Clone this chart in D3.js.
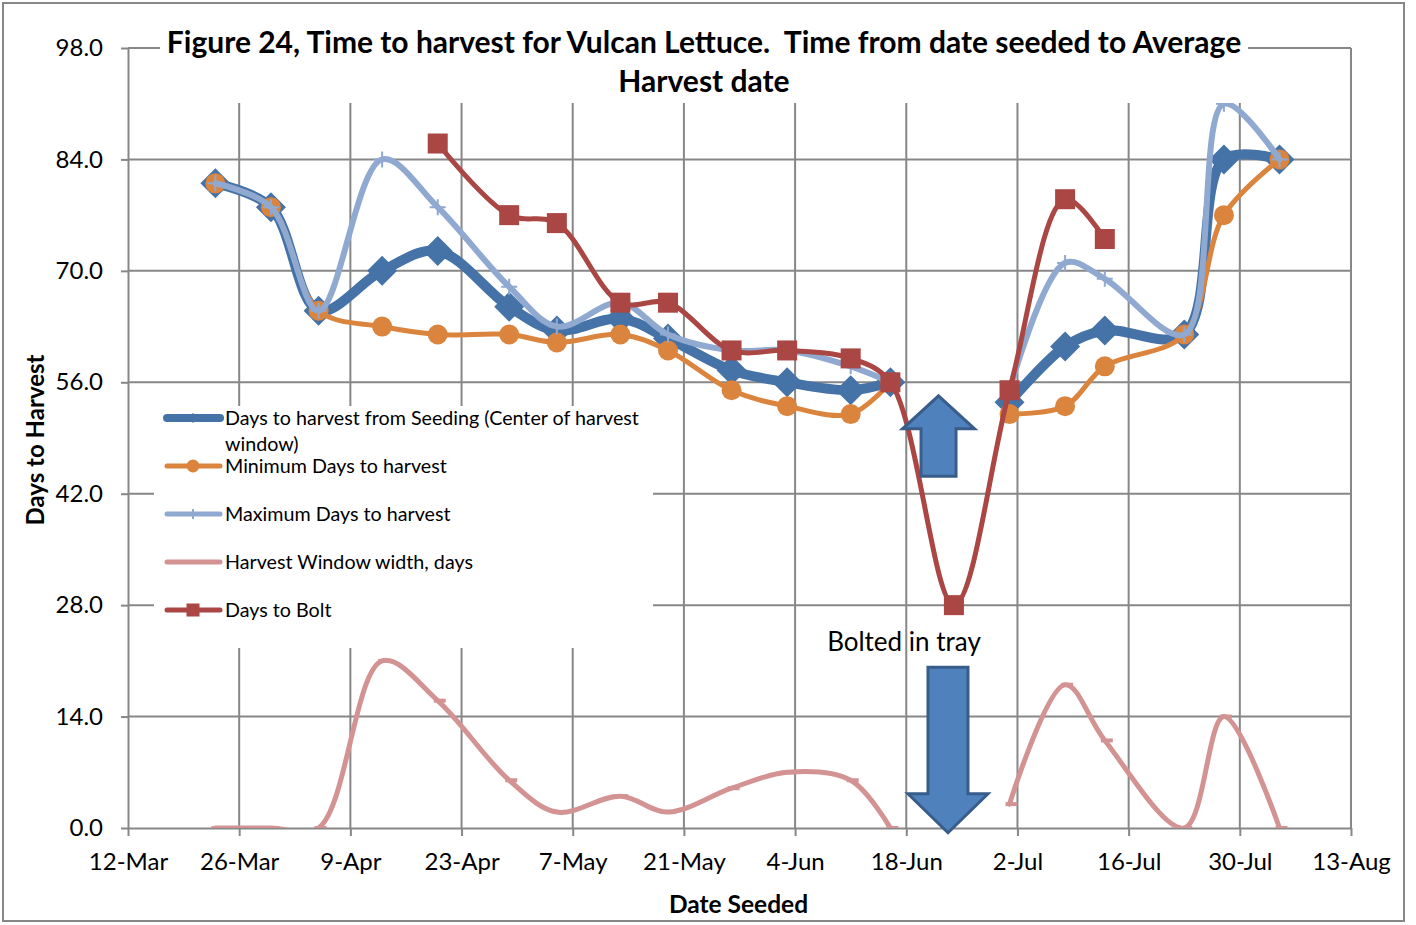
<!DOCTYPE html>
<html>
<head>
<meta charset="utf-8">
<script src="https://cdn.jsdelivr.net/npm/d3@7"></script>
<style>
  body { margin: 0; background: #fff; }
  svg { font-family: Lato, "Open Sans", sans-serif; }
  .grid line { stroke: #878787; stroke-width: 2; }
  .axis path, .axis line { stroke: #878787; stroke-width: 2; }
  .axis text { font-size: 24px; fill: #000; }
  .legend text { font-size: 19.7px; fill: #000; }
</style>
</head>
<body>
<svg id="chart"></svg>
<script>
// dates seeded (year 2011)
const seeded = ["23-Mar", "30-Mar", "5-Apr", "13-Apr", "20-Apr", "29-Apr", "5-May", "13-May", "19-May", "27-May",
  "3-Jun", "11-Jun", "16-Jun", "24-Jun", "1-Jul", "8-Jul", "13-Jul", "23-Jul", "28-Jul", "4-Aug"];

// days to harvest, null = no value for that seeding
const centerDays = [81, 78, 65, 70, 72.5, 65.5, 62.5, 64, 61.5, 57.5, 56, 55, 56, null, 53.5, 60.5, 62.5, 62, 84, 84];
const minDays = [81, 78, 65, 63, 62, 62, 61, 62, 60, 55, 53, 52, 56, null, 52, 53, 58, 62, 77, 84];
const maxDays = [81, 78, 65, 84, 78, 68, 63, 66, 62, 60, 60, 58, 56, null, 55, 71, 69, 62, 91, 84];
const windowDays = [0, 0, 0, 21, 16, 6, 2, 4, 2, 5, 7, 6, 0, null, 3, 18, 11, 0, 14, 0];
const boltDays = [null, null, null, null, 86, 77, 76, 66, 66, 60, 60, 59, 56, 28, 55, 79, 74, null, null, null];

const xTickLabels = ["12-Mar", "26-Mar", "9-Apr", "23-Apr", "7-May", "21-May", "4-Jun", "18-Jun", "2-Jul", "16-Jul", "30-Jul", "13-Aug"];
const yTickValues = [0, 14, 28, 42, 56, 70, 84, 98];

const seriesNames = [
  "Days to harvest from Seeding (Center of harvest window)",
  "Minimum Days to harvest",
  "Maximum Days to harvest",
  "Harvest Window width, days",
  "Days to Bolt"
];

const parseDate = s => d3.timeParse("%d-%b-%Y")(s + "-2011");

const width = 1416, height = 925;
const margin = {top: 48, right: 65, bottom: 97, left: 128};
const widthM = width - margin.left - margin.right;
const heightM = height - margin.top - margin.bottom;

const svg = d3.select("#chart").attr("width", width).attr("height", height);

// outer frame of the chart
svg.append("rect")
  .attr("x", 3).attr("y", 3).attr("width", 1401).attr("height", 918)
  .attr("fill", "#fff").attr("stroke", "#878787").attr("stroke-width", 2);

const xScale = d3.scaleTime()
  .domain([parseDate(xTickLabels[0]), parseDate(xTickLabels[xTickLabels.length - 1])])
  .range([0, widthM]);
const yScale = d3.scaleLinear().domain([0, 98]).range([heightM, 0]);

const chart = svg.append("g").attr("transform", `translate(${margin.left},${margin.top})`);

// gridlines
const grid = chart.append("g").attr("class", "grid");
grid.selectAll(".h").data(yTickValues.slice(1)).join("line")
  .attr("x1", 0).attr("x2", widthM)
  .attr("y1", d => yScale(d)).attr("y2", d => yScale(d));
grid.selectAll(".v").data(xTickLabels.slice(1)).join("line")
  .attr("x1", d => xScale(parseDate(d))).attr("x2", d => xScale(parseDate(d)))
  .attr("y1", 0).attr("y2", heightM);

// axes
const xAxis = d3.axisBottom(xScale)
  .tickValues(xTickLabels.map(parseDate))
  .tickFormat(d3.timeFormat("%-d-%b"))
  .tickSize(8).tickSizeOuter(0).tickPadding(17);
const yAxis = d3.axisLeft(yScale)
  .tickValues(yTickValues)
  .tickFormat(d3.format(".1f"))
  .tickSize(7).tickSizeOuter(0).tickPadding(18);

chart.append("g").attr("class", "axis x-axis")
  .attr("transform", `translate(0,${heightM})`).call(xAxis);
chart.append("g").attr("class", "axis y-axis").call(yAxis);
// let the css decide the font of the tick labels
chart.selectAll(".axis").attr("font-family", null).attr("font-size", null);

// series definitions (draw order = excel series order)
const series = [
  {name: seriesNames[0], values: centerDays, color: "#4572A7", width: 10, marker: "diamond", size: 15},
  {name: seriesNames[1], values: minDays, color: "#DB843D", width: 5, marker: "circle", size: 10},
  {name: seriesNames[2], values: maxDays, color: "#8FA9D0", width: 6, marker: "plus", size: 8},
  {name: seriesNames[3], values: windowDays, color: "#D39393", width: 5, marker: "dash", size: 6},
  {name: seriesNames[4], values: boltDays, color: "#AA4643", width: 5, marker: "square", size: 10}
];

svg.append("defs").append("clipPath").attr("id", "plot-clip")
  .append("rect").attr("x", -2).attr("y", -2).attr("width", widthM + 4).attr("height", heightM + 2);

const line = d3.line()
  .defined(d => d.v != null)
  .x(d => xScale(d.date))
  .y(d => yScale(d.v))
  .curve(d3.curveCatmullRom.alpha(0.5));

function drawMarker(g, type, s, color) {
  if (type === "diamond") {
    g.append("path").attr("d", `M0,${-s}L${s},0L0,${s}L${-s},0Z`).attr("fill", color);
  } else if (type === "circle") {
    g.append("circle").attr("r", s).attr("fill", color);
  } else if (type === "square") {
    g.append("rect").attr("x", -s).attr("y", -s).attr("width", 2 * s).attr("height", 2 * s).attr("fill", color);
  } else if (type === "plus") {
    g.append("path").attr("d", `M${-s},0H${s}M0,${-s}V${s}`).attr("stroke", color).attr("stroke-width", 2);
  } else if (type === "dash") {
    g.append("rect").attr("x", -s + 2).attr("y", -2).attr("width", 2 * s).attr("height", 4).attr("fill", color);
  }
}

const plot = chart.append("g").attr("clip-path", "url(#plot-clip)");
series.forEach(s => {
  const pts = seeded.map((d, i) => ({date: parseDate(d), v: s.values[i]}));
  const g = plot.append("g").attr("class", "series");
  g.append("path")
    .datum(pts)
    .attr("d", line)
    .attr("fill", "none")
    .attr("stroke", s.color)
    .attr("stroke-width", s.width)
    .attr("stroke-linejoin", "round")
    .attr("stroke-linecap", "round");
  g.selectAll(".marker")
    .data(pts.filter(d => d.v != null))
    .join("g")
    .attr("class", "marker")
    .attr("transform", d => `translate(${xScale(d.date)},${yScale(d.v)})`)
    .each(function () { drawMarker(d3.select(this), s.marker, s.size, s.color); });
});

// block arrows and the note for the tray-bolted seeding
function blockArrow(cx, tipY, baseY, shaftHalf, headHalf, headLen) {
  const dir = baseY > tipY ? 1 : -1;
  const hy = tipY + dir * headLen;
  return `M${cx},${tipY}L${cx + headHalf},${hy}L${cx + shaftHalf},${hy}L${cx + shaftHalf},${baseY}` +
    `L${cx - shaftHalf},${baseY}L${cx - shaftHalf},${hy}L${cx - headHalf},${hy}Z`;
}
const upX = xScale(parseDate("22-Jun")) + 0.5;
chart.append("path")
  .attr("d", blockArrow(upX, yScale(54.3), yScale(44.2), 17.5, 36, 33))
  .attr("fill", "#4F81BD").attr("stroke", "#385D8A").attr("stroke-width", 3).attr("stroke-linejoin", "miter");
const downX = xScale(parseDate("23-Jun")) + 2;
chart.append("path")
  .attr("d", blockArrow(downX, yScale(-0.6), yScale(20.2), 20, 40, 39))
  .attr("fill", "#4F81BD").attr("stroke", "#385D8A").attr("stroke-width", 3);
chart.append("text")
  .attr("x", downX - 44).attr("y", yScale(22.2))
  .attr("text-anchor", "middle")
  .attr("font-size", 26)
  .text("Bolted in tray");

// legend with white box over the gridlines
const legend = svg.append("g").attr("class", "legend");
legend.append("rect").attr("x", 154).attr("y", 406).attr("width", 499).attr("height", 242).attr("fill", "#fff");
const legendRows = [418, 466, 514, 562, 610];
series.forEach((s, i) => {
  const g = legend.append("g").attr("transform", `translate(0,${legendRows[i]})`);
  g.append("line").attr("x1", 167).attr("x2", 220)
    .attr("stroke", s.color).attr("stroke-width", i === 0 ? 8 : 5).attr("stroke-linecap", "round");
  const m = g.append("g").attr("transform", "translate(193,0)");
  const sizes = {diamond: 5, circle: 6.5, plus: 5, square: 6.5, dash: 0};
  if (sizes[s.marker]) drawMarker(m, s.marker, sizes[s.marker], s.color);
  if (i === 0) {
    const t = g.append("text").attr("x", 225).attr("dy", "0.35em");
    t.append("tspan").attr("x", 225).text("Days to harvest from Seeding (Center of harvest");
    t.append("tspan").attr("x", 225).attr("dy", 26).text("window)");
  } else {
    g.append("text").attr("x", 225).attr("dy", "0.35em").text(s.name);
  }
});

// title on a white box
svg.append("rect").attr("x", 160).attr("y", 20).attr("width", 1088).attr("height", 83).attr("fill", "#fff");
const title = svg.append("text")
  .attr("text-anchor", "middle")
  .attr("font-size", 30).attr("font-weight", "bold");
title.append("tspan").attr("x", 704).attr("y", 53)
  .text("Figure 24, Time to harvest for Vulcan Lettuce.\u00a0\u00a0Time from date seeded to Average");
title.append("tspan").attr("x", 704).attr("y", 92).text("Harvest date");

// axis titles
svg.append("text")
  .attr("x", margin.left + widthM / 2 - 1).attr("y", 913)
  .attr("text-anchor", "middle").attr("font-size", 24.5).attr("font-weight", "bold")
  .text("Date Seeded");
svg.append("text")
  .attr("transform", "translate(44,440) rotate(-90)")
  .attr("text-anchor", "middle").attr("font-size", 24).attr("font-weight", "bold")
  .text("Days to Harvest");
</script>
</body>
</html>
